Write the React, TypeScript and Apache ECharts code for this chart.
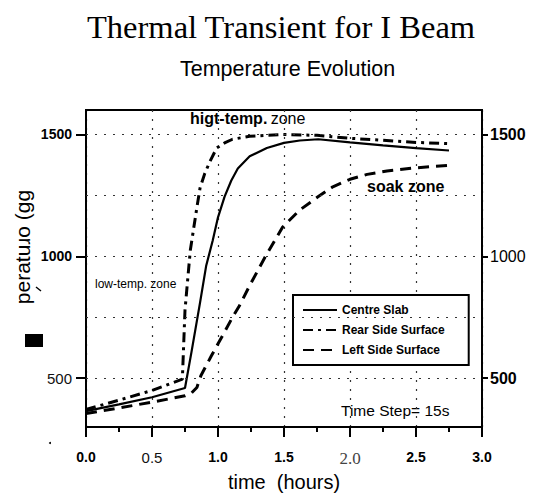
import React, { useEffect, useRef } from 'react';
import * as echarts from 'echarts';

// time (hours) / temperature values
const centreTime = [0, 0.25, 0.5, 0.75, 0.8, 0.864, 0.91, 0.96, 1.0, 1.05, 1.1, 1.15, 1.24, 1.37, 1.5, 1.62, 1.76, 2.0, 2.25, 2.5, 2.75];
const centreTemp = [365, 393, 422, 460, 610, 810, 960, 1065, 1160, 1245, 1310, 1360, 1410, 1444, 1465, 1475, 1480, 1467, 1455, 1444, 1434];

const rearTime = [0, 0.25, 0.5, 0.73, 0.75, 0.79, 0.84, 0.864, 0.9, 0.94, 0.99, 1.05, 1.11, 1.24, 1.49, 1.75, 2.0, 2.25, 2.5, 2.75];
const rearTemp = [372, 410, 450, 496, 780, 1024, 1200, 1280, 1340, 1390, 1444, 1465, 1480, 1492, 1500, 1496, 1484, 1476, 1467, 1462];

const leftTime = [0, 0.25, 0.5, 0.75, 0.8, 0.84, 0.87, 0.95, 1.0, 1.05, 1.11, 1.16, 1.24, 1.36, 1.49, 1.62, 1.76, 1.87, 2.0, 2.13, 2.28, 2.5, 2.75];
const leftTemp = [355, 378, 402, 428, 440, 462, 510, 592, 641, 690, 750, 795, 880, 1000, 1120, 1190, 1245, 1285, 1316, 1336, 1350, 1363, 1373];

const seriesNames = ['Centre Slab', 'Rear Side Surface', 'Left Side Surface'];
const gridTemps = [500, 750, 1000, 1250, 1500];
const yTickValues = [500, 1000, 1500];
const xLabelStyle = ['b', 'n', 'b', 'b', 's', 'b', 'b'];
const yLeftStyle: Record<number, string> = { 500: 'n', 1000: 'b', 1500: 'b' };
const yRightStyle: Record<number, string> = { 500: 'rb', 1000: 'rn', 1500: 'rb' };

const SANS = '"Liberation Sans", Arial, sans-serif';
const SERIF = '"Liberation Serif", "Times New Roman", serif';

const pairs = (t: number[], v: number[]) => t.map((x, i) => [x, v[i]]);

const labelRich = {
  b: { fontFamily: SANS, fontWeight: 'bold', fontSize: 14, color: '#000' },
  n: { fontFamily: SANS, fontWeight: 'normal', fontSize: 15, color: '#111' },
  s: { fontFamily: SERIF, fontWeight: 'normal', fontSize: 17, color: '#444' },
  rb: { fontFamily: SANS, fontWeight: 'bold', fontSize: 16, color: '#000' },
  rn: { fontFamily: SANS, fontWeight: 'normal', fontSize: 16, color: '#000' },
};

export default function App() {
  const ref = useRef<HTMLDivElement>(null);
  useEffect(() => {
    const chart = echarts.init(ref.current!, null, { renderer: 'svg' });
    const option: any = {
      animation: false,
      backgroundColor: '#fff',
      title: [
        {
          text: 'Thermal Transient for I Beam',
          left: 82,
          top: 5,
          textStyle: { fontFamily: SERIF, fontWeight: 'normal', fontSize: 32.5, color: '#000' },
        },
        {
          text: 'Temperature Evolution',
          left: 175,
          top: 53,
          textStyle: { fontFamily: SANS, fontWeight: 'normal', fontSize: 21.5, color: '#000' },
        },
      ],
      grid: {
        left: 86,
        right: 53,
        top: 110,
        bottom: 71,
        show: true,
        borderColor: '#000',
        borderWidth: 2,
        backgroundColor: 'transparent',
      },
      legend: {
        data: seriesNames,
        orient: 'vertical',
        left: 293,
        top: 295,
        itemWidth: 34,
        itemHeight: 12,
        itemGap: 8,
        padding: [9, 24, 9, 9],
        borderColor: '#000',
        borderWidth: 2,
        backgroundColor: '#fff',
        itemStyle: { color: 'rgba(0,0,0,0)', borderWidth: 0, opacity: 0 },
        textStyle: { fontFamily: SANS, fontWeight: 'bold', fontSize: 12, color: '#000' },
      },
      xAxis: {
        type: 'value',
        min: 0,
        max: 3,
        interval: 0.5,
        name: 'time  (hours)',
        nameLocation: 'middle',
        nameGap: 38,
        nameTextStyle: { fontFamily: SANS, fontSize: 20, color: '#000' },
        axisLine: { show: true, lineStyle: { color: '#000', width: 2 } },
        axisTick: { show: true, length: 10, lineStyle: { color: '#000', width: 2 } },
        minorTick: { show: true, splitNumber: 2, length: 5, lineStyle: { color: '#000', width: 2 } },
        splitLine: { show: true, lineStyle: { type: [2, 7], color: '#333', width: 1.2 } },
        axisLabel: {
          margin: 23,
          formatter: (v: number) => `{${xLabelStyle[Math.round(v * 2)]}|${v.toFixed(1)}}`,
          rich: labelRich,
        },
      },
      yAxis: [
        {
          type: 'value',
          min: 300,
          max: 1600,
          position: 'left',
          axisLine: { show: true, lineStyle: { color: '#000', width: 2 } },
          axisTick: { show: true, customValues: yTickValues, length: 10, lineStyle: { color: '#000', width: 2 } },
          splitLine: { show: false },
          axisLabel: {
            customValues: yTickValues,
            margin: 14,
            formatter: (v: number) => `{${yLeftStyle[v]}|${v}}`,
            rich: labelRich,
          },
        },
        {
          type: 'value',
          min: 300,
          max: 1600,
          position: 'right',
          axisLine: { show: true, lineStyle: { color: '#000', width: 2 } },
          axisTick: { show: true, customValues: yTickValues, length: 6, lineStyle: { color: '#000', width: 2 } },
          splitLine: { show: false },
          axisLabel: {
            customValues: yTickValues,
            margin: 8,
            formatter: (v: number) => `{${yRightStyle[v]}|${v}}`,
            rich: labelRich,
          },
        },
      ],
      series: [
        {
          name: seriesNames[0],
          type: 'line',
          data: pairs(centreTime, centreTemp),
          symbol: 'none',
          lineStyle: { color: '#000', width: 2.2, type: 'solid' },
          itemStyle: { color: '#000' },
          markLine: {
            silent: true,
            symbol: 'none',
            label: { show: false },
            lineStyle: { type: [2, 7], color: '#333', width: 1.2 },
            data: gridTemps.map((v) => ({ yAxis: v })),
          },
          z: 3,
        },
        {
          name: seriesNames[1],
          type: 'line',
          data: pairs(rearTime, rearTemp),
          symbol: 'none',
          lineStyle: { color: '#000', width: 3, type: [10, 5, 3, 5] },
          itemStyle: { color: '#000' },
          z: 3,
        },
        {
          name: seriesNames[2],
          type: 'line',
          data: pairs(leftTime, leftTemp),
          symbol: 'none',
          lineStyle: { color: '#000', width: 3, type: [11, 7] },
          itemStyle: { color: '#000' },
          z: 3,
        },
      ],
      graphic: [
        {
          type: 'text',
          x: 22,
          y: 247,
          rotation: Math.PI / 2,
          style: {
            text: 'peratuɹo (gg',
            fontFamily: SANS,
            fontSize: 21,
            fill: '#000',
            align: 'center',
            verticalAlign: 'middle',
          },
        },
        { type: 'line', shape: { x1: 36, y1: 287, x2: 41, y2: 291 }, style: { stroke: '#000', lineWidth: 1.5 } },
        { type: 'rect', shape: { x: 25, y: 334, width: 18, height: 13 }, style: { fill: '#000' } },
        { type: 'circle', shape: { cx: 50, cy: 443, r: 1 }, style: { fill: '#000' } },
        {
          type: 'text',
          x: 190,
          y: 118,
          style: {
            text: '{b|higt-temp.} {n|zone}',
            verticalAlign: 'middle',
            rich: {
              b: { fontFamily: SANS, fontWeight: 'bold', fontSize: 16, fill: '#000' },
              n: { fontFamily: SANS, fontWeight: 'normal', fontSize: 16, fill: '#000' },
            },
          },
        },
        {
          type: 'text',
          x: 95,
          y: 284,
          style: { text: 'low-temp. zone', fontFamily: SANS, fontSize: 12, fill: '#000', verticalAlign: 'middle' },
        },
        {
          type: 'text',
          x: 367,
          y: 186,
          style: { text: 'soak zone', fontFamily: SANS, fontWeight: 'bold', fontSize: 16, fill: '#000', verticalAlign: 'middle' },
        },
        {
          type: 'text',
          x: 341,
          y: 410,
          style: { text: 'Time Step= 15s', fontFamily: SANS, fontSize: 15.5, fill: '#000', verticalAlign: 'middle' },
        },
      ],
    };
    chart.setOption(option);
    return () => chart.dispose();
  }, []);
  return <div ref={ref} style={{ position: 'fixed', left: 0, top: 0, width: 535, height: 498 }} />;
}
